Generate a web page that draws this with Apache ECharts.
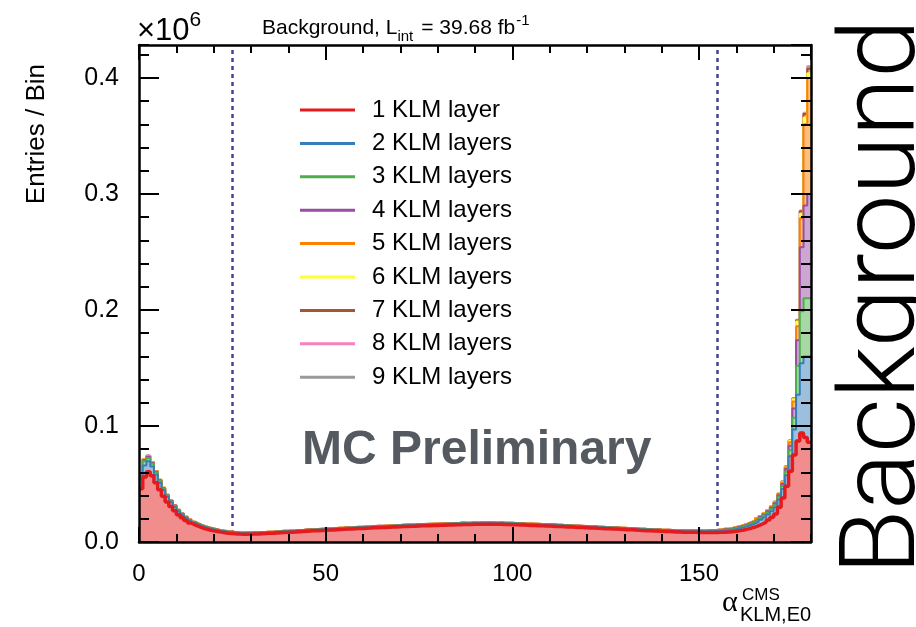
<!DOCTYPE html>
<html>
<head>
<meta charset="utf-8">
<script src="https://cdn.jsdelivr.net/npm/echarts@6/dist/echarts.min.js"></script>
<style>
html, body { margin: 0; padding: 0; background: #ffffff; }
#chart { width: 916px; height: 627px; }
</style>
</head>
<body>
<div id="chart"></div>
<script>
// Histogram of alpha^CMS_KLM,E0 (1 degree bins, 0..180), entries in thousands per bin,
// stacked by number of KLM layers.
const xMin = 0, xMax = 180, binWidth = 1;

const layerNames = ['1 KLM layer', '2 KLM layers', '3 KLM layers', '4 KLM layers', '5 KLM layers',
                    '6 KLM layers', '7 KLM layers', '8 KLM layers', '9 KLM layers'];
const layerColors = ['#e41a1c', '#377eb8', '#4daf4a', '#984ea3', '#ff7f00',
                     '#ffff33', '#a65628', '#f781bf', '#999999'];

const layer1 = [
  46, 56, 60.5, 57, 51, 45, 39.5, 34.5, 30.5, 27,
  23.5, 20.8, 18.5, 16.4, 14.8, 13.4, 12.2, 11.2, 10.4, 9.7,
  9.1, 8.5, 8.0, 7.6, 7.3, 7.0, 6.8, 6.7, 6.7, 6.8,
  6.9, 7.0, 7.2, 7.3, 7.5, 7.6, 7.8, 8.0, 8.2, 8.3,
  8.5, 8.7, 8.9, 9.0, 9.2, 9.4, 9.6, 9.7, 9.9, 10.1,
  10.3, 10.4, 10.6, 10.8, 10.9, 11.1, 11.2, 11.4, 11.6, 11.7,
  11.9, 12.0, 12.2, 12.3, 12.4, 12.6, 12.7, 12.9, 13.0, 13.1,
  13.3, 13.4, 13.5, 13.6, 13.8, 13.9, 14.0, 14.1, 14.2, 14.3,
  14.4, 14.5, 14.6, 14.7, 14.8, 14.9, 15.0, 15.0, 15.1, 15.2,
  15.2, 15.3, 15.3, 15.3, 15.3, 15.2, 15.2, 15.1, 15.0, 14.9,
  14.8, 14.7, 14.6, 14.4, 14.3, 14.2, 14.1, 13.9, 13.8, 13.7,
  13.6, 13.4, 13.3, 13.2, 13.0, 12.9, 12.7, 12.6, 12.4, 12.3,
  12.1, 12.0, 11.8, 11.7, 11.5, 11.4, 11.2, 11.1, 10.9, 10.8,
  10.6, 10.5, 10.3, 10.1, 10.0, 9.8, 9.7, 9.5, 9.4, 9.2,
  9.1, 9.0, 8.9, 8.7, 8.6, 8.5, 8.4, 8.4, 8.3, 8.2,
  8.2, 8.1, 8.1, 8.1, 8.2, 8.3, 8.5, 8.7, 8.9, 9.3,
  9.8, 10.4, 11.1, 11.9, 12.9, 14.1, 15.5, 17.1, 19.0, 21.3,
  24.2, 30, 38, 48, 61, 75, 87, 94, 90, 86
];
const layer2 = [
  8, 10, 9, 8, 7, 6, 5, 4.3, 3.7, 3.2,
  2.8, 2.5, 2.2, 2.0, 1.8, 1.6, 1.5, 1.4, 1.3, 1.2,
  1.1, 1.0, 1.0, 0.9, 0.9, 0.8, 0.8, 0.8, 0.7, 0.7,
  0.7, 0.7, 0.7, 0.7, 0.7, 0.7, 0.7, 0.7, 0.7, 0.7,
  0.7, 0.7, 0.8, 0.7, 0.8, 0.8, 0.7, 0.8, 0.8, 0.8,
  0.8, 0.8, 0.8, 0.8, 0.8, 0.8, 0.8, 0.8, 0.8, 0.8,
  0.8, 0.8, 0.8, 0.9, 0.8, 0.8, 0.9, 0.8, 0.9, 0.9,
  0.9, 0.9, 0.9, 0.9, 0.9, 0.9, 0.9, 0.9, 0.9, 0.9,
  0.9, 0.9, 0.9, 0.9, 0.9, 0.9, 1.0, 0.9, 0.9, 1.0,
  0.9, 1.0, 0.9, 1.0, 0.9, 0.9, 1.0, 0.9, 0.9, 0.9,
  0.9, 0.9, 0.9, 0.9, 0.9, 0.9, 0.9, 0.9, 0.9, 0.9,
  0.9, 0.9, 0.9, 0.8, 0.9, 0.8, 0.8, 0.8, 0.8, 0.8,
  0.8, 0.8, 0.8, 0.8, 0.8, 0.8, 0.8, 0.8, 0.8, 0.8,
  0.8, 0.8, 0.8, 0.8, 0.8, 0.8, 0.8, 0.8, 0.8, 0.8,
  0.8, 0.8, 0.8, 0.8, 0.8, 0.9, 0.9, 0.9, 0.9, 1.0,
  1.0, 1.0, 1.1, 1.1, 1.2, 1.3, 1.4, 1.5, 1.6, 1.8,
  2.0, 2.2, 2.4, 2.7, 3.0, 3.3, 3.7, 4.1, 4.6, 5.2,
  5.8, 6.6, 7.6, 9.5, 13, 22, 40, 60, 70, 74
];
const layer3 = [
  2.5, 3.5, 3.0, 2.5, 2.0, 1.7, 1.4, 1.2, 1.0, 0.9,
  0.8, 0.7, 0.6, 0.6, 0.5, 0.5, 0.4, 0.4, 0.4, 0.4,
  0.3, 0.3, 0.3, 0.3, 0.3, 0.3, 0.3, 0.3, 0.3, 0.3,
  0.3, 0.3, 0.3, 0.3, 0.3, 0.3, 0.3, 0.3, 0.3, 0.3,
  0.3, 0.3, 0.3, 0.3, 0.3, 0.3, 0.3, 0.3, 0.3, 0.3,
  0.3, 0.3, 0.3, 0.3, 0.3, 0.3, 0.3, 0.3, 0.3, 0.3,
  0.3, 0.3, 0.3, 0.3, 0.3, 0.3, 0.3, 0.3, 0.3, 0.3,
  0.3, 0.3, 0.3, 0.3, 0.3, 0.3, 0.3, 0.3, 0.3, 0.3,
  0.3, 0.3, 0.3, 0.3, 0.3, 0.3, 0.3, 0.3, 0.3, 0.3,
  0.3, 0.3, 0.3, 0.3, 0.3, 0.3, 0.3, 0.3, 0.3, 0.3,
  0.3, 0.3, 0.3, 0.3, 0.3, 0.3, 0.3, 0.3, 0.3, 0.3,
  0.3, 0.3, 0.3, 0.3, 0.3, 0.3, 0.3, 0.3, 0.3, 0.3,
  0.3, 0.3, 0.3, 0.3, 0.3, 0.3, 0.3, 0.3, 0.3, 0.3,
  0.3, 0.3, 0.3, 0.3, 0.3, 0.3, 0.3, 0.3, 0.3, 0.3,
  0.3, 0.3, 0.3, 0.3, 0.3, 0.3, 0.3, 0.4, 0.4, 0.4,
  0.4, 0.4, 0.4, 0.5, 0.5, 0.5, 0.6, 0.6, 0.7, 0.7,
  0.8, 0.9, 1.0, 1.1, 1.2, 1.3, 1.4, 1.6, 1.7, 1.9,
  2.0, 2.3, 2.7, 3.2, 5, 10, 25, 45, 50, 50
];
const layer4 = [
  0.8, 1.0, 0.9, 0.7, 0.6, 0.5, 0.4, 0.4, 0.3, 0.3,
  0.3, 0.3, 0.2, 0.2, 0.2, 0.2, 0.2, 0.2, 0.2, 0.2,
  0.2, 0.2, 0.2, 0.2, 0.2, 0.2, 0.2, 0.2, 0.2, 0.2,
  0.2, 0.2, 0.2, 0.2, 0.2, 0.2, 0.2, 0.2, 0.2, 0.2,
  0.2, 0.2, 0.2, 0.2, 0.2, 0.2, 0.2, 0.2, 0.2, 0.2,
  0.2, 0.2, 0.2, 0.2, 0.2, 0.2, 0.2, 0.2, 0.2, 0.2,
  0.2, 0.2, 0.2, 0.2, 0.2, 0.2, 0.2, 0.2, 0.2, 0.2,
  0.2, 0.2, 0.2, 0.2, 0.2, 0.2, 0.2, 0.2, 0.2, 0.2,
  0.2, 0.2, 0.2, 0.2, 0.2, 0.2, 0.2, 0.2, 0.2, 0.2,
  0.2, 0.2, 0.2, 0.2, 0.2, 0.2, 0.2, 0.2, 0.2, 0.2,
  0.2, 0.2, 0.2, 0.2, 0.2, 0.2, 0.2, 0.2, 0.2, 0.2,
  0.2, 0.2, 0.2, 0.2, 0.2, 0.2, 0.2, 0.2, 0.2, 0.2,
  0.2, 0.2, 0.2, 0.2, 0.2, 0.2, 0.2, 0.2, 0.2, 0.2,
  0.2, 0.2, 0.2, 0.2, 0.2, 0.2, 0.2, 0.2, 0.2, 0.2,
  0.2, 0.2, 0.2, 0.2, 0.2, 0.2, 0.2, 0.2, 0.2, 0.2,
  0.2, 0.2, 0.3, 0.3, 0.3, 0.3, 0.4, 0.4, 0.4, 0.5,
  0.5, 0.6, 0.6, 0.7, 0.7, 0.8, 0.9, 1.0, 1.1, 1.2,
  1.3, 1.5, 1.8, 2.2, 4, 8, 22, 55, 80, 90
];
const layer5 = [
  0.6, 0.7, 0.6, 0.5, 0.4, 0.3, 0.3, 0.2, 0.2, 0.2,
  0.2, 0.2, 0.2, 0.1, 0.1, 0.1, 0.1, 0.1, 0.1, 0.1,
  0.1, 0.1, 0.1, 0.1, 0.1, 0.1, 0.1, 0.1, 0.1, 0.1,
  0.1, 0.1, 0.1, 0.1, 0.1, 0.1, 0.1, 0.1, 0.1, 0.1,
  0.1, 0.1, 0.1, 0.1, 0.1, 0.1, 0.1, 0.1, 0.1, 0.1,
  0.1, 0.1, 0.1, 0.1, 0.1, 0.1, 0.1, 0.1, 0.1, 0.1,
  0.1, 0.1, 0.1, 0.1, 0.1, 0.1, 0.1, 0.1, 0.1, 0.1,
  0.1, 0.1, 0.1, 0.1, 0.1, 0.1, 0.1, 0.1, 0.1, 0.1,
  0.1, 0.1, 0.1, 0.1, 0.1, 0.1, 0.1, 0.1, 0.1, 0.1,
  0.1, 0.1, 0.1, 0.1, 0.1, 0.1, 0.1, 0.1, 0.1, 0.1,
  0.1, 0.1, 0.1, 0.1, 0.1, 0.1, 0.1, 0.1, 0.1, 0.1,
  0.1, 0.1, 0.1, 0.1, 0.1, 0.1, 0.1, 0.1, 0.1, 0.1,
  0.1, 0.1, 0.1, 0.1, 0.1, 0.1, 0.1, 0.1, 0.1, 0.1,
  0.1, 0.1, 0.1, 0.1, 0.1, 0.1, 0.1, 0.1, 0.1, 0.1,
  0.1, 0.1, 0.1, 0.1, 0.1, 0.1, 0.1, 0.1, 0.1, 0.1,
  0.2, 0.2, 0.2, 0.2, 0.2, 0.3, 0.3, 0.3, 0.3, 0.4,
  0.4, 0.4, 0.5, 0.5, 0.5, 0.6, 0.6, 0.7, 0.7, 0.8,
  0.9, 1.0, 1.2, 1.5, 3, 6, 12, 25, 70, 100
];
const layer6 = [
  0.2, 0.2, 0.2, 0.1, 0.1, 0.1, 0.1, 0.1, 0.1, 0.1,
  0.1, 0.1, 0.05, 0.05, 0.05, 0.05, 0.05, 0.05, 0.05, 0.05,
  0.05, 0.05, 0.05, 0.05, 0.05, 0.05, 0.05, 0.05, 0.05, 0.05,
  0.05, 0.05, 0.05, 0.05, 0.05, 0.05, 0.05, 0.05, 0.05, 0.05,
  0.05, 0.05, 0.05, 0.05, 0.05, 0.05, 0.05, 0.05, 0.05, 0.05,
  0.05, 0.05, 0.05, 0.05, 0.05, 0.05, 0.05, 0.05, 0.05, 0.05,
  0.05, 0.05, 0.05, 0.05, 0.05, 0.05, 0.05, 0.05, 0.05, 0.05,
  0.05, 0.05, 0.05, 0.05, 0.05, 0.05, 0.05, 0.05, 0.05, 0.05,
  0.05, 0.05, 0.05, 0.05, 0.05, 0.05, 0.05, 0.05, 0.05, 0.05,
  0.05, 0.05, 0.05, 0.05, 0.05, 0.05, 0.05, 0.05, 0.05, 0.05,
  0.05, 0.05, 0.05, 0.05, 0.05, 0.05, 0.05, 0.05, 0.05, 0.05,
  0.05, 0.05, 0.05, 0.05, 0.05, 0.05, 0.05, 0.05, 0.05, 0.05,
  0.05, 0.05, 0.05, 0.05, 0.05, 0.05, 0.05, 0.05, 0.05, 0.05,
  0.05, 0.05, 0.05, 0.05, 0.05, 0.05, 0.05, 0.05, 0.05, 0.05,
  0.05, 0.05, 0.05, 0.05, 0.05, 0.05, 0.05, 0.05, 0.05, 0.05,
  0.05, 0.05, 0.05, 0.05, 0.05, 0.1, 0.1, 0.1, 0.1, 0.1,
  0.1, 0.1, 0.1, 0.1, 0.1, 0.2, 0.2, 0.2, 0.2, 0.2,
  0.3, 0.3, 0.4, 0.5, 1, 2, 4, 4, 6, 4
];
const layer7 = [
  0.1, 0.1, 0.1, 0.05, 0.05, 0.05, 0.05, 0.05, 0.05, 0.05,
  0.05, 0.05, 0.05, 0.05, 0.05, 0.05, 0.05, 0.05, 0.05, 0.05,
  0.05, 0.05, 0.05, 0.05, 0.05, 0.05, 0.05, 0.05, 0.05, 0.05,
  0.05, 0.05, 0.05, 0.05, 0.05, 0.05, 0.05, 0.05, 0.05, 0.05,
  0.05, 0.05, 0.05, 0.05, 0.05, 0.05, 0.05, 0.05, 0.05, 0.05,
  0.05, 0.05, 0.05, 0.05, 0.05, 0.05, 0.05, 0.05, 0.05, 0.05,
  0.05, 0.05, 0.05, 0.05, 0.05, 0.05, 0.05, 0.05, 0.05, 0.05,
  0.05, 0.05, 0.05, 0.05, 0.05, 0.05, 0.05, 0.05, 0.05, 0.05,
  0.05, 0.05, 0.05, 0.05, 0.05, 0.05, 0.05, 0.05, 0.05, 0.05,
  0.05, 0.05, 0.05, 0.05, 0.05, 0.05, 0.05, 0.05, 0.05, 0.05,
  0.05, 0.05, 0.05, 0.05, 0.05, 0.05, 0.05, 0.05, 0.05, 0.05,
  0.05, 0.05, 0.05, 0.05, 0.05, 0.05, 0.05, 0.05, 0.05, 0.05,
  0.05, 0.05, 0.05, 0.05, 0.05, 0.05, 0.05, 0.05, 0.05, 0.05,
  0.05, 0.05, 0.05, 0.05, 0.05, 0.05, 0.05, 0.05, 0.05, 0.05,
  0.05, 0.05, 0.05, 0.05, 0.05, 0.05, 0.05, 0.05, 0.05, 0.05,
  0.05, 0.05, 0.05, 0.05, 0.05, 0.05, 0.05, 0.05, 0.05, 0.05,
  0.05, 0.05, 0.05, 0.05, 0.05, 0.1, 0.1, 0.1, 0.1, 0.1,
  0.1, 0.1, 0.2, 0.2, 0.3, 0.5, 1, 2, 3, 4
];
const layer8 = [
  0.05, 0.05, 0.05, 0.02, 0.02, 0.02, 0.02, 0.02, 0.02, 0.02,
  0.02, 0.02, 0.02, 0.02, 0.02, 0.02, 0.02, 0.02, 0.02, 0.02,
  0.02, 0.02, 0.02, 0.02, 0.02, 0.02, 0.02, 0.02, 0.02, 0.02,
  0.02, 0.02, 0.02, 0.02, 0.02, 0.02, 0.02, 0.02, 0.02, 0.02,
  0.02, 0.02, 0.02, 0.02, 0.02, 0.02, 0.02, 0.02, 0.02, 0.02,
  0.02, 0.02, 0.02, 0.02, 0.02, 0.02, 0.02, 0.02, 0.02, 0.02,
  0.02, 0.02, 0.02, 0.02, 0.02, 0.02, 0.02, 0.02, 0.02, 0.02,
  0.02, 0.02, 0.02, 0.02, 0.02, 0.02, 0.02, 0.02, 0.02, 0.02,
  0.02, 0.02, 0.02, 0.02, 0.02, 0.02, 0.02, 0.02, 0.02, 0.02,
  0.02, 0.02, 0.02, 0.02, 0.02, 0.02, 0.02, 0.02, 0.02, 0.02,
  0.02, 0.02, 0.02, 0.02, 0.02, 0.02, 0.02, 0.02, 0.02, 0.02,
  0.02, 0.02, 0.02, 0.02, 0.02, 0.02, 0.02, 0.02, 0.02, 0.02,
  0.02, 0.02, 0.02, 0.02, 0.02, 0.02, 0.02, 0.02, 0.02, 0.02,
  0.02, 0.02, 0.02, 0.02, 0.02, 0.02, 0.02, 0.02, 0.02, 0.02,
  0.02, 0.02, 0.02, 0.02, 0.02, 0.02, 0.02, 0.02, 0.02, 0.02,
  0.02, 0.02, 0.02, 0.02, 0.02, 0.02, 0.02, 0.02, 0.02, 0.02,
  0.02, 0.02, 0.02, 0.02, 0.02, 0.05, 0.05, 0.05, 0.05, 0.05,
  0.05, 0.05, 0.1, 0.1, 0.1, 0.2, 0.3, 0.4, 0.5, 1
];
const layer9 = [
  0.05, 0.05, 0.05, 0.02, 0.02, 0.02, 0.02, 0.02, 0.02, 0.02,
  0.02, 0.02, 0.02, 0.02, 0.02, 0.02, 0.02, 0.02, 0.02, 0.02,
  0.02, 0.02, 0.02, 0.02, 0.02, 0.02, 0.02, 0.02, 0.02, 0.02,
  0.02, 0.02, 0.02, 0.02, 0.02, 0.02, 0.02, 0.02, 0.02, 0.02,
  0.02, 0.02, 0.02, 0.02, 0.02, 0.02, 0.02, 0.02, 0.02, 0.02,
  0.02, 0.02, 0.02, 0.02, 0.02, 0.02, 0.02, 0.02, 0.02, 0.02,
  0.02, 0.02, 0.02, 0.02, 0.02, 0.02, 0.02, 0.02, 0.02, 0.02,
  0.02, 0.02, 0.02, 0.02, 0.02, 0.02, 0.02, 0.02, 0.02, 0.02,
  0.02, 0.02, 0.02, 0.02, 0.02, 0.02, 0.02, 0.02, 0.02, 0.02,
  0.02, 0.02, 0.02, 0.02, 0.02, 0.02, 0.02, 0.02, 0.02, 0.02,
  0.02, 0.02, 0.02, 0.02, 0.02, 0.02, 0.02, 0.02, 0.02, 0.02,
  0.02, 0.02, 0.02, 0.02, 0.02, 0.02, 0.02, 0.02, 0.02, 0.02,
  0.02, 0.02, 0.02, 0.02, 0.02, 0.02, 0.02, 0.02, 0.02, 0.02,
  0.02, 0.02, 0.02, 0.02, 0.02, 0.02, 0.02, 0.02, 0.02, 0.02,
  0.02, 0.02, 0.02, 0.02, 0.02, 0.02, 0.02, 0.02, 0.02, 0.02,
  0.02, 0.02, 0.02, 0.02, 0.02, 0.02, 0.02, 0.02, 0.02, 0.02,
  0.02, 0.02, 0.02, 0.02, 0.02, 0.05, 0.05, 0.05, 0.05, 0.05,
  0.05, 0.05, 0.1, 0.1, 0.1, 0.2, 0.3, 0.4, 0.5, 1
];
const layerCounts = [layer1, layer2, layer3, layer4, layer5, layer6, layer7, layer8, layer9];

// Axis ranges and ticks (y in units of 10^6 entries)
const yMax = 0.4284;
const xMajor = 50, xMinor = 10;
const yMajor = 0.1, yMinor = 0.02;
const cutLines = [25, 155];

const FONT = "'Liberation Sans', Arial, Helvetica, sans-serif";
const SERIF = "'Liberation Serif', 'DejaVu Serif', serif";

// Grid frame
const G = { left: 139, right: 105, top: 45, bottom: 85 };

// Running sums: layer i is drawn as the band between stack level i-1 and stack level i.
const stackLevels = [];
layerCounts.forEach((counts, i) => {
  stackLevels.push(counts.map((c, b) => c + (i > 0 ? stackLevels[i - 1][b] : 0)));
});

// Histogram as step line: each bin drawn from its lower edge, closed at the upper edge.
function toSteps(levels) {
  const pts = levels.map((c, b) => [xMin + b * binWidth, c / 1000]);
  pts.push([xMin + levels.length * binWidth, levels[levels.length - 1] / 1000]);
  return pts;
}

// 50% tint of a colour over white, for opaque band fills
function tint(hex) {
  const n = parseInt(hex.slice(1), 16);
  const ch = [(n >> 16) & 255, (n >> 8) & 255, n & 255].map(v => Math.round((v + 255) / 2));
  return 'rgb(' + ch.join(',') + ')';
}

// Higher stack levels drawn first, lower levels (and their lines) on top.
const series = stackLevels.map((levels, i) => ({
  name: layerNames[i],
  type: 'line',
  step: 'end',
  xAxisIndex: 0,
  yAxisIndex: 0,
  symbol: 'none',
  showSymbol: false,
  color: layerColors[i],
  lineStyle: { color: layerColors[i], width: i === 0 ? 3.5 : 2 },
  areaStyle: { color: tint(layerColors[i]), opacity: 1, origin: 'start' },
  z: 20 - i,
  silent: true,
  data: toSteps(levels)
}));

// Selection cut lines
series[0].markLine = {
  silent: true,
  symbol: 'none',
  label: { show: false },
  lineStyle: { color: '#44448a', width: 2.5, type: [4, 4] },
  data: cutLines.map(v => ({ xAxis: v }))
};

const axisBlack = { color: '#000', width: 2.5 };
function xAxisDef(position, interval, tickLen, showLine, showLabel) {
  return {
    type: 'value', gridIndex: 0, position, min: xMin, max: xMax, interval,
    axisLine: { show: showLine, onZero: false, lineStyle: axisBlack },
    axisTick: { show: true, inside: true, length: tickLen, lineStyle: { color: '#000', width: 2 } },
    axisLabel: { show: showLabel, margin: 20, color: '#000', fontSize: 24, fontFamily: FONT, showMaxLabel: false },
    splitLine: { show: false },
    z: 50
  };
}
function yAxisDef(position, interval, tickLen, showLine, showLabel) {
  return {
    type: 'value', gridIndex: 0, position, min: 0, max: yMax, interval,
    axisLine: { show: showLine, onZero: false, lineStyle: axisBlack },
    axisTick: { show: true, inside: true, length: tickLen, lineStyle: { color: '#000', width: 2 } },
    axisLabel: { show: showLabel, margin: 20, color: '#000', fontSize: 25, fontFamily: FONT, showMaxLabel: false,
                 formatter: v => v.toFixed(1) },
    splitLine: { show: false },
    z: 50
  };
}

// Text helpers
const measureCtx = document.createElement('canvas').getContext('2d');
function textW(str, size, family, weight) {
  measureCtx.font = (weight || 'normal') + ' ' + size + 'px ' + family;
  return measureCtx.measureText(str).width;
}
// Place text by its baseline (canvas "middle" sits ~0.35 em above the baseline)
function txt(str, x, baseline, size, opts) {
  opts = opts || {};
  return {
    type: 'text', x, y: baseline - 0.35 * size, silent: true, z: 100,
    rotation: opts.rotation || 0,
    style: {
      text: str, fill: opts.fill || '#000', fontSize: size,
      fontFamily: opts.family || FONT, fontWeight: opts.weight || 'normal',
      align: opts.align || 'left', verticalAlign: 'middle'
    }
  };
}
function runOf(pieces, x0, baseline) {
  const out = [];
  let x = x0;
  pieces.forEach(p => {
    x += p.gap || 0;
    out.push(txt(p.t, x, baseline + (p.dy || 0), p.size, { family: p.family }));
    x += textW(p.t, p.size, p.family || FONT);
  });
  return out;
}

const graphics = [];
// Exponent of the y axis
graphics.push(...runOf([{ t: '\u00d710', size: 31 }, { t: '6', size: 21, dy: -14 }], 137, 42));
// Header
graphics.push(...runOf([
  { t: 'Background, L', size: 21 },
  { t: 'int', size: 15, dy: 6 },
  { t: '= 39.68 fb', size: 21, gap: 8 },
  { t: '-1', size: 15, dy: -10, gap: 1 }
], 262, 36));
// X axis title
graphics.push(txt('\u03b1', 722, 614, 30, { family: SERIF }));
graphics.push(txt('CMS', 742, 601, 17));
graphics.push(txt('KLM,E0', 740, 622, 20));
// Y axis title (reads upward, right end at the top)
graphics.push({
  type: 'text', x: 37, y: 64, rotation: Math.PI / 2, silent: true, z: 100,
  style: { text: 'Entries / Bin', fill: '#000', fontSize: 26, fontFamily: FONT, align: 'right', verticalAlign: 'middle' }
});
// Watermark
graphics.push(txt('MC Preliminary', 302, 468, 48, { weight: 'bold', fill: '#555a61' }));
// Side label
graphics.push({
  type: 'text', x: 883, y: 297, rotation: Math.PI / 2, silent: true, z: 100,
  style: { text: 'Background', fill: '#000', fontSize: 106, fontFamily: "'Roboto Light', Roboto, " + FONT,
           fontWeight: 300, align: 'center', verticalAlign: 'middle' }
});

const chart = echarts.init(document.getElementById('chart'), null, { renderer: 'canvas' });
chart.setOption({
  animation: false,
  backgroundColor: '#ffffff',
  grid: { left: G.left, right: G.right, top: G.top, bottom: G.bottom, containLabel: false, outerBoundsMode: 'none' },
  legend: {
    orient: 'vertical', left: 300, top: 98, padding: 0, icon: 'rect', itemWidth: 55, itemHeight: 3, itemGap: 9.4,
    selectedMode: false, z: 100,
    textStyle: { fontFamily: FONT, fontSize: 24, color: '#000', lineHeight: 24, padding: [0, 0, 0, 12] },
    data: layerNames
  },
  xAxis: [
    xAxisDef('bottom', xMajor, 15, true, true),
    xAxisDef('bottom', xMinor, 8, false, false),
    xAxisDef('top', xMajor, 15, true, false),
    xAxisDef('top', xMinor, 8, false, false)
  ],
  yAxis: [
    yAxisDef('left', yMajor, 20, true, true),
    yAxisDef('left', yMinor, 10, false, false),
    yAxisDef('right', yMajor, 20, true, false),
    yAxisDef('right', yMinor, 10, false, false)
  ],
  series,
  graphic: graphics
});
</script>
</body>
</html>
